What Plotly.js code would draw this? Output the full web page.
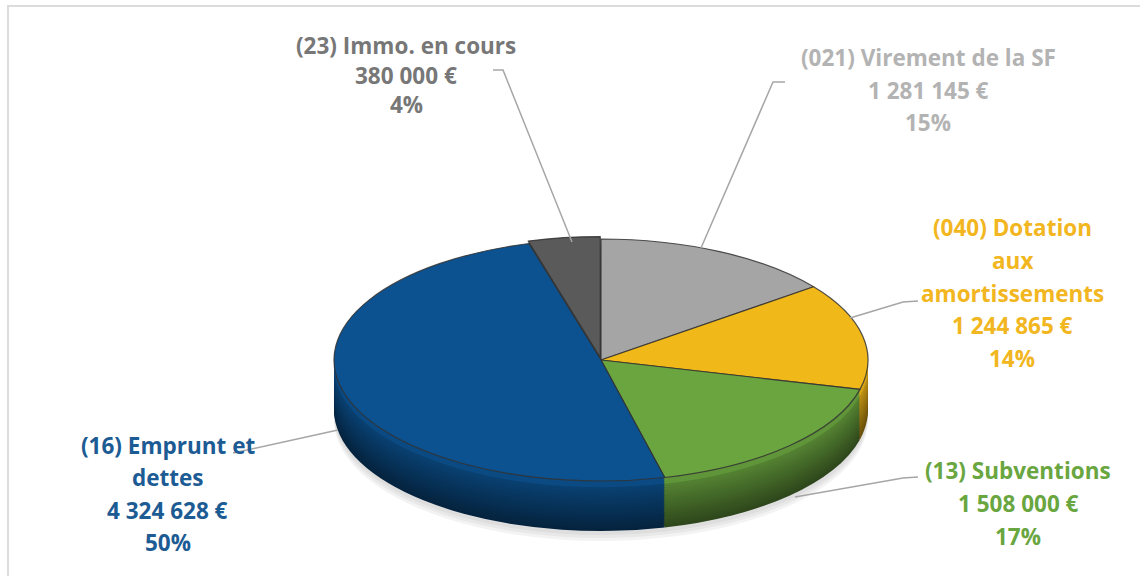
<!DOCTYPE html>
<html><head><meta charset="utf-8">
<script src="https://cdn.plot.ly/plotly-3.0.1.min.js"></script>
<style>
html,body{margin:0;padding:0;background:#fff;}
#wrap{position:relative;width:1140px;height:576px;overflow:hidden;}
#chart{position:absolute;left:0;top:0;width:1140px;height:576px;}
#frame{position:absolute;left:7px;top:5px;right:0;bottom:0;border-left:2px solid #dcdcdc;border-top:2px solid #dcdcdc;pointer-events:none;}
</style></head><body>
<div id="wrap"><div id="chart"></div><div id="frame"></div></div>
<script>
// ---- data ----
const categories = ['(021) Virement de la SF', '(040) Dotation|aux|amortissements', '(13) Subventions', '(16) Emprunt et|dettes', '(23) Immo. en cours'];
const values = [1281145, 1244865, 1508000, 4324628, 380000];
const pctLabels = ['15%', '14%', '17%', '50%', '4%'];

// ---- styles ----
const sliceColors = ['#a5a5a5', '#f1b81a', '#6ba540', '#0c5290', '#5a5a5a'];
const labelColors = ['#b3b3b3', '#f2b620', '#6aa63f', '#1c5b93', '#777777'];
const pulls = [0, 0, 0, 0, 0.02];

const W = 1140, H = 576;
const CX = 601, CY = 360, RX = 267, RY = 121, DEPTH = 50;
const K = RY / RX;
const maxPull = 0.02;
const boxHalf = RX * (1 + maxPull);
const domain = {x: [(CX - boxHalf) / W, (CX + boxHalf) / W], y: [0.5 - boxHalf / H, 0.5 + boxHalf / H]};
const oldCY = H / 2;

function shade(hex, f) {
  const n = parseInt(hex.slice(1), 16);
  const r = (n >> 16) & 255, g = (n >> 8) & 255, b = n & 255;
  return 'rgb(' + Math.round(r * f) + ',' + Math.round(g * f) + ',' + Math.round(b * f) + ')';
}

const traces = [];
const offsets = [];
// soft shadow
[10, 7, 4].forEach(s => {
  traces.push({type: 'pie', values: values, sort: false, direction: 'clockwise', rotation: 0, pull: pulls,
    domain: domain, textinfo: 'none', hoverinfo: 'skip', showlegend: false,
    marker: {colors: values.map(() => 'rgba(140,140,140,0.10)'), line: {width: 0}}});
  offsets.push(DEPTH + s);
});
// side layers (deepest first): lighter bevel near top, darker toward bottom
const NL = 24;
for (let i = NL; i >= 1; i--) {
  const t = i / NL;
  const f = t < 0.15 ? 0.9 : 0.85 - 0.42 * t;
  traces.push({type: 'pie', values: values, sort: false, direction: 'clockwise', rotation: 0, pull: pulls,
    domain: domain, textinfo: 'none', hoverinfo: 'skip', showlegend: false,
    marker: {colors: sliceColors.map(c => shade(c, f)), line: {width: 0}}});
  offsets.push(DEPTH * t);
}
// top face
traces.push({type: 'pie', values: values, sort: false, direction: 'clockwise', rotation: 0, pull: pulls,
  domain: domain, textinfo: 'none', hoverinfo: 'skip', showlegend: false,
  marker: {colors: sliceColors, line: {color: 'rgba(50,50,50,0.85)', width: 1.2}}});
offsets.push(0);

// ---- labels ----
function fmt(v) { return String(v).replace(/\B(?=(\d{3})+(?!\d))/g, ' ') + ' €'; }
const labelPos = [
  {x: 928, y: 58, dy: 32.5},
  {x: 1012, y: 228, dy: 32.5},
  {x: 1018, y: 470, dy: 33},
  {x: 168, y: 445, dy: 32.5},
  {x: 406, y: 45, dy: 30}
];
const px = x => x / W, py = y => 1 - y / H;
const annotations = [];
categories.forEach((c, i) => {
  const lines = c.split('|').concat([fmt(values[i]), pctLabels[i]]);
  lines.forEach((ln, j) => {
    annotations.push({xref: 'paper', yref: 'paper', x: px(labelPos[i].x), y: py(labelPos[i].y + j * labelPos[i].dy),
      xanchor: 'center', yanchor: 'middle', showarrow: false, text: '<b>' + ln + '</b>',
      font: {family: '"Open Sans", sans-serif', size: 22.5, color: labelColors[i]}});
  });
});

const leaders = [
  [[701, 248], [773, 82], [785, 82]],
  [[850, 318], [903, 302], [918, 301]],
  [[795, 497], [903, 478], [918, 477]],
  [[338, 430], [233, 453]],
  [[572, 242], [503, 70], [493, 70]]
];
const shapes = leaders.map(pts => ({type: 'path', xref: 'paper', yref: 'paper',
  path: pts.map((p, j) => (j ? 'L' : 'M') + px(p[0]) + ',' + py(p[1])).join(' '),
  line: {color: '#a6a6a6', width: 1.5}}));

const layout = {width: W, height: H, margin: {l: 0, r: 0, t: 0, b: 0},
  paper_bgcolor: '#ffffff', plot_bgcolor: '#ffffff', showlegend: false,
  annotations: annotations, shapes: shapes};

Plotly.newPlot('chart', traces, layout, {staticPlot: true, displayModeBar: false}).then(gd => {
  const groups = gd.querySelectorAll('.pielayer > g.trace');
  groups.forEach((g, i) => {
    const off = offsets[i] || 0;
    g.setAttribute('transform', 'translate(0,' + (CY + off) + ') scale(1,' + K + ') translate(0,' + (-oldCY) + ')');
    g.querySelectorAll('path').forEach(p => p.setAttribute('vector-effect', 'non-scaling-stroke'));
  });
});
</script>
</body></html>
